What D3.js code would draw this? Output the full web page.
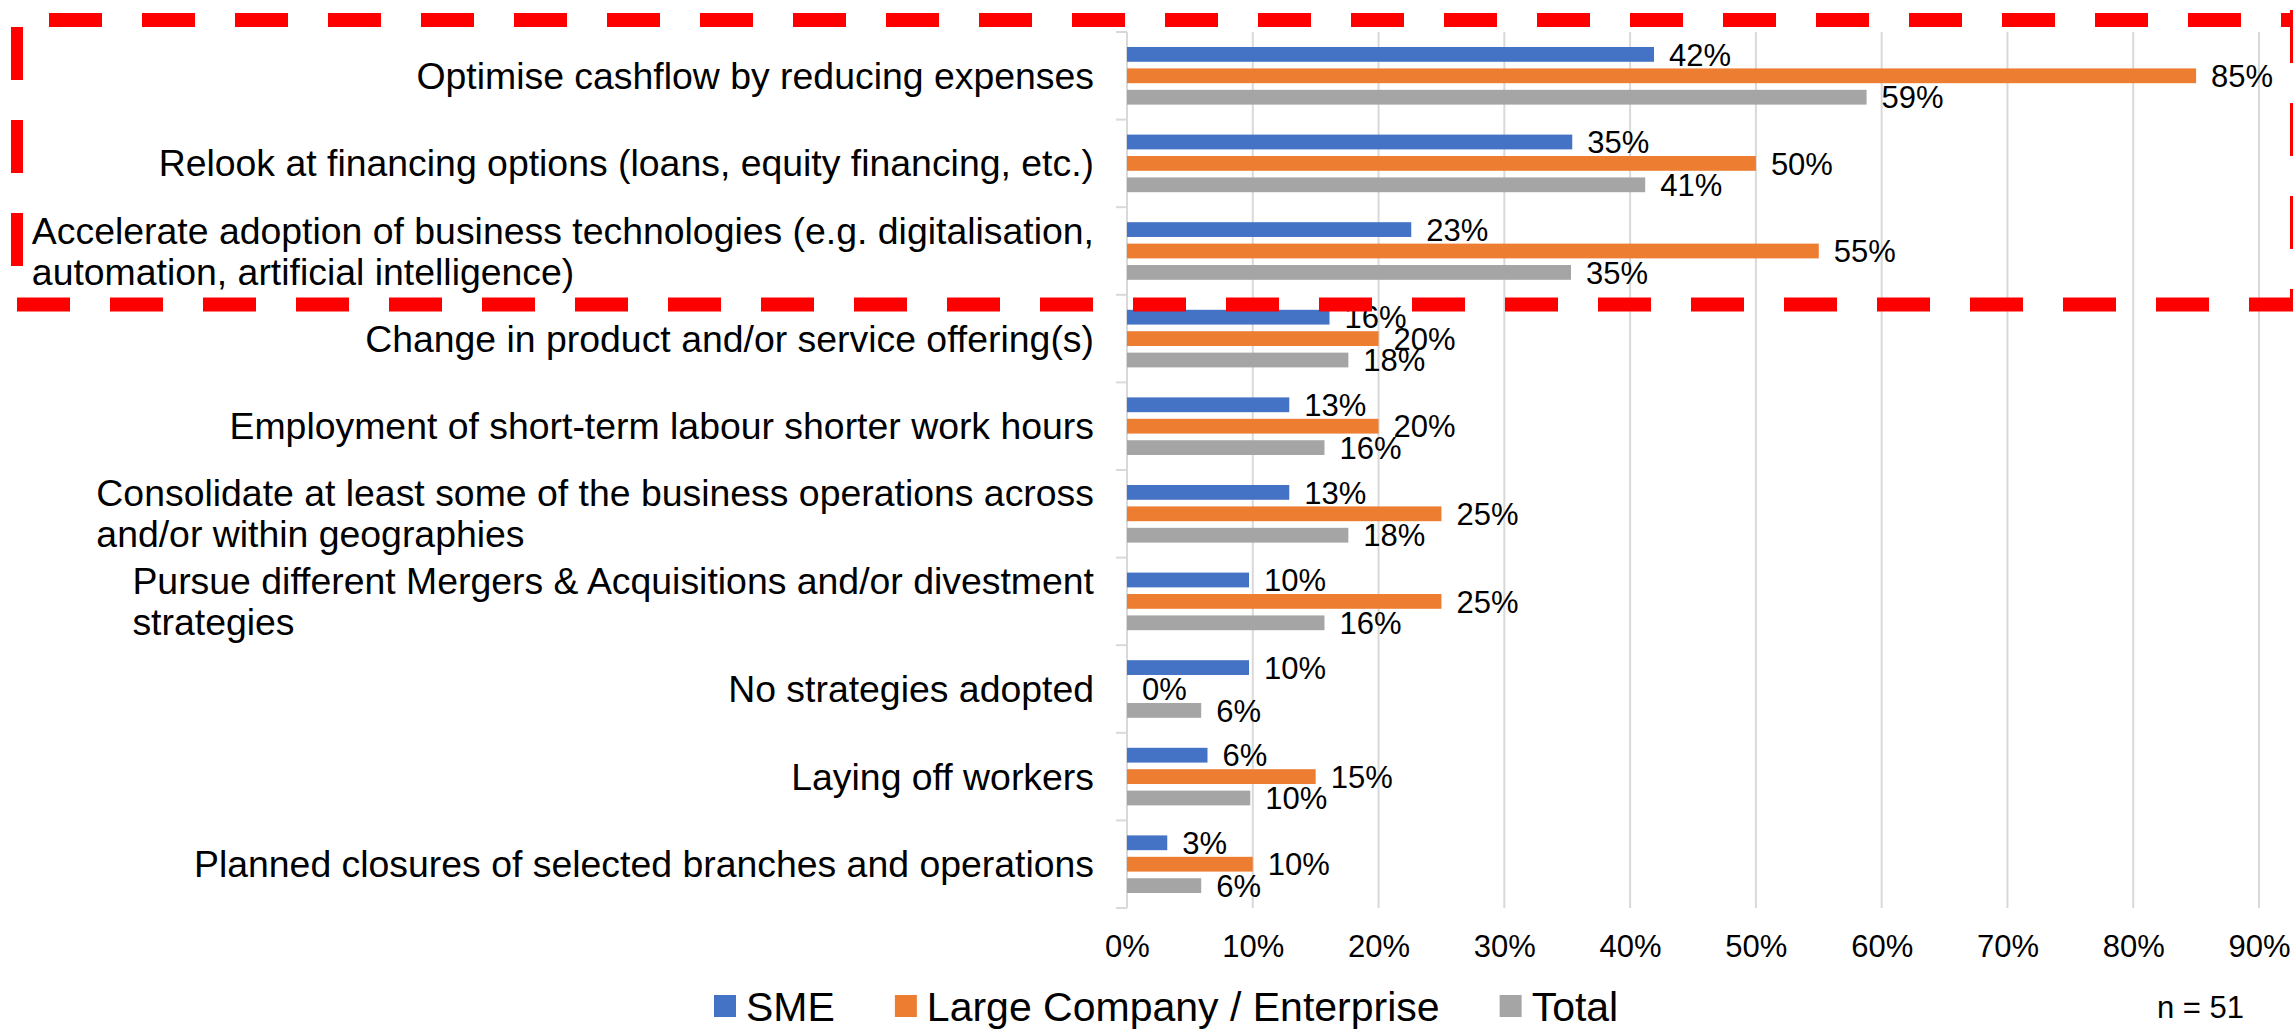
<!DOCTYPE html>
<html>
<head>
<meta charset="utf-8">
<script src="https://cdn.jsdelivr.net/npm/d3@7"></script>
<style>
  body { margin: 0; background: #fff; }
  svg { display: block; font-family: "Liberation Sans", Arial, sans-serif; }
</style>
</head>
<body>
<svg id="chart" width="2293" height="1031"></svg>
<script>
// data (percent)
const categories = [
    "Optimise cashflow by reducing expenses",
    "Relook at financing options (loans, equity financing, etc.)",
    "Accelerate adoption of business technologies (e.g. digitalisation, automation, artificial intelligence)",
    "Change in product and/or service offering(s)",
    "Employment of short-term labour shorter work hours",
    "Consolidate at least some of the business operations across and/or within geographies",
    "Pursue different Mergers & Acquisitions and/or divestment strategies",
    "No strategies adopted",
    "Laying off workers",
    "Planned closures of selected branches and operations"
]
const seriesNames = ["SME", "Large Company / Enterprise", "Total"]
const smeValues = [41.9, 35.4, 22.6, 16.1, 12.9, 12.9, 9.7, 9.7, 6.4, 3.2]
const largeValues = [85, 50, 55, 20, 20, 25, 25, 0, 15, 10]
const totalValues = [58.8, 41.2, 35.3, 17.6, 15.7, 17.6, 15.7, 5.9, 9.8, 5.9]
const xTicks = [0, 10, 20, 30, 40, 50, 60, 70, 80, 90]
const sampleNote = "n = 51"

const colors = ["#4472C4", "#ED7D31", "#A5A5A5"]
const seriesValues = [smeValues, largeValues, totalValues]
const rows = categories.map((c, i) => ({
    cat: c,
    values: seriesValues.map((s, j) => ({key: seriesNames[j], value: s[i], color: colors[j]}))
}))

const svg = d3.select('#chart')
const width = +svg.attr("width")
const height = +svg.attr("height")
const margin = ({top: 32, right: 34, bottom: 123, left: 1127})

const x = d3.scaleLinear()
    .domain([0, 90])
    .range([margin.left, width - margin.right])

const y0 = d3.scaleBand()
    .domain(categories)
    .range([margin.top, height - margin.bottom])

const y1 = d3.scaleBand()
    .domain(seriesNames)
    .range([15, y0.bandwidth() - 15])
    .paddingInner(0.31)

// gridlines
svg.append("g")
    .selectAll("line")
    .data(xTicks.filter(d => d > 0))
    .join("line")
        .attr("x1", d => x(d)).attr("x2", d => x(d))
        .attr("y1", margin.top).attr("y2", height - margin.bottom)
        .attr("stroke", "#d9d9d9")
        .attr("stroke-width", 2)

// category axis line + ticks
const catAxis = svg.append("g")
catAxis.append("line")
    .attr("x1", x(0)).attr("x2", x(0))
    .attr("y1", margin.top).attr("y2", height - margin.bottom)
    .attr("stroke", "#d9d9d9")
    .attr("stroke-width", 2)
catAxis.selectAll(".tick")
    .data(categories.map(c => y0(c)).concat([height - margin.bottom]))
    .join("line")
        .attr("class", "tick")
        .attr("x1", x(0) - 11).attr("x2", x(0))
        .attr("y1", d => d).attr("y2", d => d)
        .attr("stroke", "#d9d9d9")
        .attr("stroke-width", 2)

// bars
const groups = svg.append("g")
    .selectAll("g")
    .data(rows)
    .join("g")
        .attr("transform", d => `translate(0,${y0(d.cat)})`)

groups.selectAll("rect")
    .data(d => d.values)
    .join("rect")
        .attr("x", x(0))
        .attr("y", d => y1(d.key))
        .attr("width", d => x(d.value) - x(0))
        .attr("height", y1.bandwidth())
        .attr("fill", d => d.color)

groups.selectAll("text")
    .data(d => d.values)
    .join("text")
        .attr("x", d => x(d.value) + 15)
        .attr("y", d => y1(d.key) + y1.bandwidth() / 2)
        .attr("dy", "0.36em")
        .style("font-size", "31px")
        .style("fill", "#000")
        .text(d => Math.round(d.value) + "%")

// x axis
svg.append("g")
    .attr("transform", `translate(0,${height - margin.bottom})`)
    .call(d3.axisBottom(x).tickValues(xTicks).tickFormat(d => d + "%").tickSize(0).tickPadding(27))
    .call(g => g.select(".domain").remove())
    .call(g => g.selectAll("text")
        .style("font-size", "31px")
        .style("font-family", "'Liberation Sans', Arial, sans-serif")
        .attr("fill", "#000"))

// category labels, wrapped, block right aligned, lines left aligned
const labelRight = x(0) - 33
const maxLabelWidth = 1085
const lineGap = 41
const labelSize = "37.4px"
const measure = svg.append("text").style("font-size", labelSize)
function textWidth(s){
    measure.text(s)
    return measure.node().getComputedTextLength()
}
function wrap(s){
    const words = s.split(" ")
    let lines = [], cur = ""
    words.forEach(w => {
        const test = cur ? cur + " " + w : w
        if (cur && textWidth(test) > maxLabelWidth){
            lines.push(cur)
            cur = w
        } else cur = test
    })
    lines.push(cur)
    return lines
}

categories.forEach(c => {
    const lines = wrap(c)
    const blockW = d3.max(lines, l => textWidth(l))
    const cy = y0(c) + y0.bandwidth() / 2
    svg.append("g")
        .selectAll("text")
        .data(lines)
        .join("text")
            .attr("x", labelRight - blockW)
            .attr("y", (d, i) => cy + (i - (lines.length - 1) / 2) * lineGap)
            .attr("dy", "0.35em")
            .style("font-size", labelSize)
            .style("fill", "#000")
            .text(d => d)
})
measure.remove()

// legend
const legend = svg.append("g")
let lx = 714
const ly = 1006
seriesNames.forEach((name, i) => {
    legend.append("rect")
        .attr("x", lx).attr("y", ly - 11)
        .attr("width", 22).attr("height", 22)
        .attr("fill", colors[i])
    const t = legend.append("text")
        .attr("x", lx + 32)
        .attr("y", ly)
        .attr("dy", "0.36em")
        .style("font-size", "41px")
        .style("fill", "#000")
        .text(name)
    lx += 32 + t.node().getComputedTextLength() + 60
})

svg.append("text")
    .attr("x", 2157)
    .attr("y", 1018)
    .style("font-size", "31px")
    .style("fill", "#000")
    .text(sampleNote)

// red dashed highlight box
const box = svg.append("g")
    .attr("stroke", "#FF0000")
    .attr("stroke-width", 14)
    .attr("stroke-dasharray", "53 40")
box.append("line").attr("x1", 49).attr("x2", 2300).attr("y1", 20).attr("y2", 20)
box.append("line").attr("x1", 17).attr("x2", 2300).attr("y1", 304.5).attr("y2", 304.5)
box.append("line").attr("x1", 17).attr("x2", 17).attr("y1", 27).attr("y2", 298)
    .attr("stroke-width", 12)
box.append("line").attr("x1", 2297).attr("x2", 2297).attr("y1", 10).attr("y2", 311)
</script>
</body>
</html>
